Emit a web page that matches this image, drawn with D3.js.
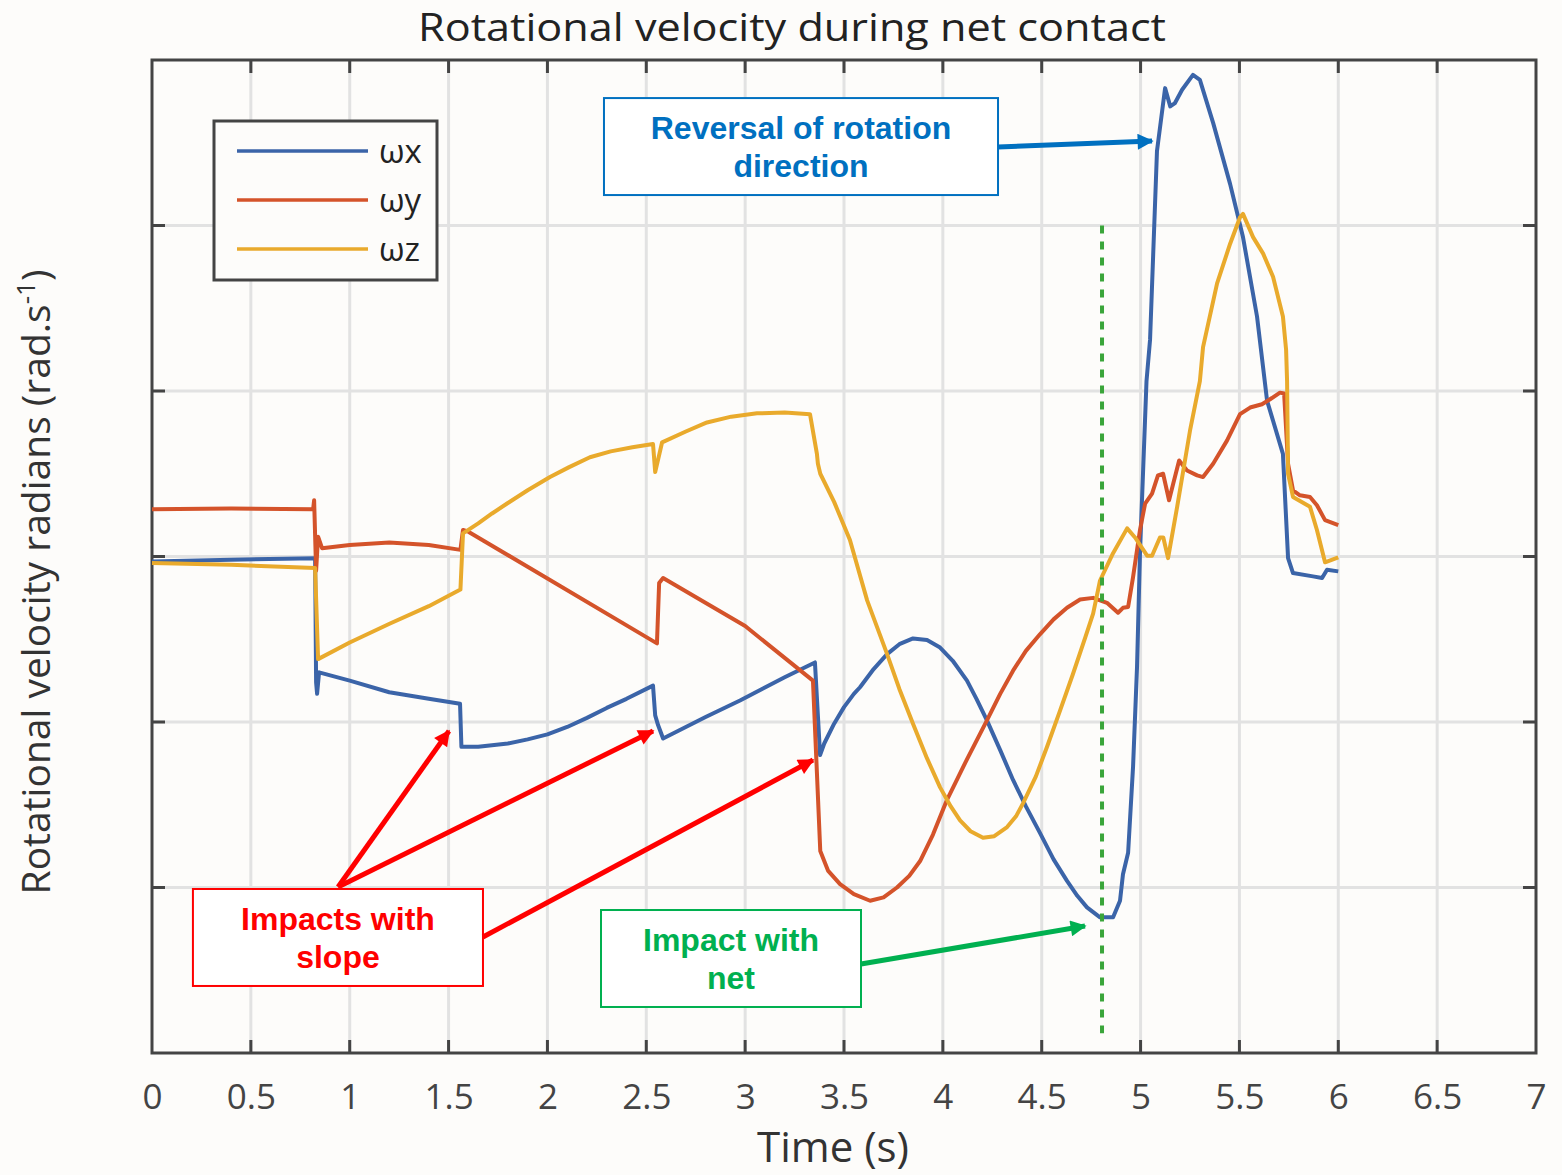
<!DOCTYPE html>
<html lang="en">
<head>
<meta charset="UTF-8">
<title>Rotational velocity during net contact</title>
<script src="https://cdn.jsdelivr.net/npm/d3@7"></script>
<style>
  body { margin: 0; background: #fdfcfa; }
  svg { display: block; }
  .tick text { font-family: "Open Sans", sans-serif; fill: #444; }
  .ann { font-family: "Liberation Sans", Arial, sans-serif; font-weight: bold; }
</style>
</head>
<body>
<svg width="1562" height="1175"></svg>
<script>
// x ticks (s)
const xTicks = [0, 0.5, 1, 1.5, 2, 2.5, 3, 3.5, 4, 4.5, 5, 5.5, 6, 6.5, 7];
const yTicks = [-30, -20, -10, 0, 10, 20, 30];

// series, [time, rad/s]
const omegaX = [
  [0, -0.3], [0.4, -0.2], [0.825, -0.1], [0.83, -7.6], [0.835, -8.3], [0.845, -7.0],
  [1.0, -7.5], [1.2, -8.2], [1.4, -8.6], [1.558, -8.9], [1.565, -11.5], [1.65, -11.5],
  [1.8, -11.3], [1.9, -11.05], [2.0, -10.75], [2.1, -10.3], [2.2, -9.75], [2.3, -9.15],
  [2.4, -8.6], [2.534, -7.8], [2.545, -9.6], [2.56, -10.2], [2.585, -11.0], [2.8, -9.7],
  [2.974, -8.7], [3.2, -7.3], [3.353, -6.4], [3.379, -12.0], [3.4, -11.3], [3.45, -10.1],
  [3.5, -9.1], [3.55, -8.3], [3.581, -7.9], [3.65, -6.8], [3.718, -5.9], [3.78, -5.3],
  [3.849, -4.95], [3.92, -5.05], [3.986, -5.5], [4.05, -6.3], [4.122, -7.5], [4.17, -8.6],
  [4.223, -9.9], [4.29, -11.7], [4.355, -13.5], [4.42, -15.1], [4.491, -16.7], [4.56, -18.3],
  [4.628, -19.6], [4.68, -20.5], [4.729, -21.2], [4.795, -21.8], [4.861, -21.8],
  [4.896, -20.8], [4.911, -19.2], [4.937, -17.9], [4.962, -12.7], [4.982, -6.7],
  [4.997, 0.2], [5.03, 10.6], [5.048, 13.1], [5.083, 24.5], [5.124, 28.3], [5.15, 27.2],
  [5.174, 27.4], [5.21, 28.2], [5.265, 29.1], [5.3, 28.8], [5.367, 26.2], [5.453, 22.5],
  [5.518, 19.3], [5.589, 14.5], [5.64, 9.4], [5.72, 6.2], [5.746, -0.1], [5.771, -1.0],
  [5.872, -1.2], [5.918, -1.3], [5.943, -0.8], [6.0, -0.9]
];
const omegaY = [
  [0, 2.85], [0.4, 2.9], [0.815, 2.85], [0.82, 3.4], [0.83, -0.85], [0.84, 1.2],
  [0.86, 0.5], [1.0, 0.7], [1.2, 0.85], [1.4, 0.7], [1.56, 0.4], [1.573, 1.6],
  [1.6, 1.5], [2.554, -5.25], [2.565, -1.6], [2.585, -1.3], [3.0, -4.2], [3.343, -7.5],
  [3.38, -17.8], [3.42, -19.0], [3.48, -19.8], [3.55, -20.4], [3.632, -20.8], [3.7, -20.6],
  [3.768, -20.0], [3.83, -19.3], [3.885, -18.4], [3.95, -16.8], [4.021, -14.7],
  [4.12, -12.3], [4.223, -9.9], [4.29, -8.3], [4.355, -6.9], [4.42, -5.7], [4.491, -4.7],
  [4.56, -3.8], [4.628, -3.1], [4.694, -2.6], [4.76, -2.5], [4.83, -2.8], [4.886, -3.4],
  [4.911, -3.1], [4.937, -3.05], [4.962, -1.25], [4.997, 1.6], [5.023, 3.2], [5.058, 3.8],
  [5.088, 4.9], [5.114, 5.0], [5.144, 3.4], [5.165, 4.4], [5.195, 5.8], [5.235, 5.2],
  [5.286, 4.9], [5.316, 4.8], [5.367, 5.6], [5.437, 7.0], [5.503, 8.6], [5.554, 9.0],
  [5.614, 9.2], [5.655, 9.5], [5.705, 9.9], [5.726, 9.85], [5.746, 5.6], [5.771, 4.0],
  [5.806, 3.7], [5.857, 3.6], [5.892, 3.1], [5.933, 2.2], [6.0, 1.9]
];
const omegaZ = [
  [0, -0.4], [0.4, -0.5], [0.825, -0.7], [0.84, -6.2], [1.0, -5.2], [1.204, -4.05],
  [1.4, -3.0], [1.56, -2.0], [1.573, 1.4], [1.65, 2.0], [1.72, 2.6], [1.796, 3.2],
  [1.9, 4.0], [2.013, 4.8], [2.11, 5.4], [2.215, 6.0], [2.32, 6.35], [2.43, 6.6],
  [2.534, 6.8], [2.545, 5.1], [2.58, 6.9], [2.7, 7.55], [2.807, 8.1], [2.93, 8.45],
  [3.06, 8.65], [3.2, 8.7], [3.328, 8.6], [3.363, 6.2], [3.368, 5.6], [3.38, 5.0],
  [3.45, 3.3], [3.53, 1.0], [3.617, -2.65], [3.718, -5.9], [3.78, -8.0], [3.849, -10.1],
  [3.92, -12.2], [3.986, -13.95], [4.04, -15.1], [4.087, -15.95], [4.14, -16.6],
  [4.203, -17.0], [4.26, -16.9], [4.325, -16.35], [4.37, -15.7], [4.406, -14.9],
  [4.47, -13.3], [4.527, -11.5], [4.59, -9.4], [4.658, -7.1], [4.72, -4.9], [4.76, -3.45],
  [4.795, -1.45], [4.861, 0.2], [4.932, 1.7], [4.972, 1.15], [5.033, 0.05], [5.058, 0.05],
  [5.098, 1.15], [5.115, 1.15], [5.139, -0.1], [5.185, 3.0], [5.25, 7.6], [5.3, 10.6],
  [5.316, 12.65], [5.387, 16.5], [5.453, 18.9], [5.503, 20.5], [5.518, 20.7], [5.569, 19.3],
  [5.62, 18.3], [5.67, 16.9], [5.72, 14.5], [5.736, 12.5], [5.741, 10.6], [5.746, 5.0],
  [5.771, 3.6], [5.857, 3.0], [5.892, 1.6], [5.933, -0.35], [6.0, -0.05]
];

const series = [
  { name: "\u03c9x", data: omegaX, color: "#3b64a8" },
  { name: "\u03c9y", data: omegaY, color: "#d4532a" },
  { name: "\u03c9z", data: omegaZ, color: "#e9aa2c" }
];

const netTime = 4.805;

const margin = { left: 152, right: 26, top: 60, bottom: 122 };
const width = 1562, height = 1175;

const svg = d3.select("svg");
svg.append("rect").attr("width", width).attr("height", height).attr("fill", "#fdfcfa");

const x = d3.scaleLinear().domain([0, 7]).range([margin.left, width - margin.right]);
const y = d3.scaleLinear().domain([-30, 30]).range([height - margin.bottom, margin.top]);

// grid
const grid = svg.append("g").attr("stroke", "#e2e2e2").attr("stroke-width", 3);
grid.selectAll("line.gx").data(xTicks.slice(1, -1)).enter().append("line")
  .attr("x1", d => x(d)).attr("x2", d => x(d))
  .attr("y1", y(30)).attr("y2", y(-30));
grid.selectAll("line.gy").data(yTicks.slice(1, -1)).enter().append("line")
  .attr("x1", x(0)).attr("x2", x(7))
  .attr("y1", d => y(d)).attr("y2", d => y(d));

// axes with inward ticks, no y labels
const tickLen = 13;
const xAxis = svg.append("g")
  .attr("transform", `translate(0,${y(-30)})`)
  .call(d3.axisBottom(x).tickValues(xTicks).tickSize(0).tickPadding(31).tickFormat(d3.format("")));
xAxis.select(".domain").remove();
xAxis.selectAll("text").attr("font-size", 35);

const frame = svg.append("g").attr("stroke", "#444").attr("stroke-width", 3);
xTicks.slice(1, -1).forEach(t => {
  frame.append("line").attr("x1", x(t)).attr("x2", x(t)).attr("y1", y(-30)).attr("y2", y(-30) - tickLen);
  frame.append("line").attr("x1", x(t)).attr("x2", x(t)).attr("y1", y(30)).attr("y2", y(30) + tickLen);
});
yTicks.slice(1, -1).forEach(v => {
  frame.append("line").attr("x1", x(0)).attr("x2", x(0) + tickLen).attr("y1", y(v)).attr("y2", y(v));
  frame.append("line").attr("x1", x(7)).attr("x2", x(7) - tickLen).attr("y1", y(v)).attr("y2", y(v));
});
frame.append("rect")
  .attr("x", x(0)).attr("y", y(30))
  .attr("width", x(7) - x(0)).attr("height", y(-30) - y(30))
  .attr("fill", "none");

// lines
const line = d3.line().x(d => x(d[0])).y(d => y(d[1]));
svg.append("g").selectAll("path").data(series).enter().append("path")
  .attr("d", d => line(d.data))
  .attr("fill", "none")
  .attr("stroke", d => d.color)
  .attr("stroke-width", 4)
  .attr("stroke-linejoin", "round");

// net impact marker
svg.append("line")
  .attr("x1", x(netTime)).attr("x2", x(netTime))
  .attr("y1", y(20)).attr("y2", y(-28.8))
  .attr("stroke", "#3aa53a").attr("stroke-width", 4)
  .attr("stroke-dasharray", "8,8");

// titles
svg.append("text")
  .attr("x", 792).attr("y", 41)
  .attr("text-anchor", "middle")
  .attr("font-family", "Open Sans, sans-serif").attr("font-size", 38).attr("fill", "#222")
  .attr("textLength", 748).attr("lengthAdjust", "spacingAndGlyphs")
  .text("Rotational velocity during net contact");

svg.append("text")
  .attr("x", 833).attr("y", 1162)
  .attr("text-anchor", "middle")
  .attr("font-family", "Open Sans, sans-serif").attr("font-size", 42).attr("fill", "#333")
  .text("Time (s)");

const yl = svg.append("text")
  .attr("transform", `translate(50,582) rotate(-90)`)
  .attr("text-anchor", "middle")
  .attr("font-family", "Open Sans, sans-serif").attr("font-size", 39).attr("fill", "#333");
yl.append("tspan").text("Rotational velocity radians (rad.s");
yl.append("tspan").attr("dy", -15).attr("font-size", 26).text("-1");
yl.append("tspan").attr("dy", 15).text(")");

// legend
const lg = svg.append("g").attr("transform", `translate(${x(0) + 62},${y(30) + 61})`);
lg.append("rect").attr("width", 223).attr("height", 159)
  .attr("fill", "#fdfcfa").attr("stroke", "#444").attr("stroke-width", 3);
series.forEach((s, i) => {
  const gy = 30 + i * 49;
  lg.append("line").attr("x1", 23).attr("x2", 154).attr("y1", gy).attr("y2", gy)
    .attr("stroke", s.color).attr("stroke-width", 3.5);
  lg.append("text").attr("x", 165).attr("y", gy + 12)
    .attr("font-family", "Open Sans, sans-serif").attr("font-size", 33).attr("fill", "#222")
    .text(s.name);
});

// annotations (positions in data units)
const boxes = [
  { t0: 2.286, t1: 4.279, v0: 27.7, v1: 21.84, color: "#0070c0", lines: ["Reversal of rotation", "direction"] },
  { t0: 0.207, t1: 1.674, v0: -20.09, v1: -25.95, color: "#ff0000", lines: ["Impacts with", "slope"] },
  { t0: 2.271, t1: 3.586, v0: -21.36, v1: -27.22, color: "#00b050", lines: ["Impact with", "net"] }
];
const arrows = [
  { from: [0.941, -19.97], to: [1.502, -10.54], color: "#ff0000", w: 5 },
  { from: [0.941, -19.97], to: [2.534, -10.54], color: "#ff0000", w: 5 },
  { from: [1.674, -22.99], to: [3.343, -12.3], color: "#ff0000", w: 5 },
  { from: [4.279, 24.75], to: [5.058, 25.1], color: "#0070c0", w: 5 },
  { from: [3.586, -24.62], to: [4.719, -22.33], color: "#00b050", w: 5 }
];

const colors = ["#ff0000", "#0070c0", "#00b050"];
const defs = svg.append("defs");
colors.forEach((c, i) => {
  defs.append("marker")
    .attr("id", "ah" + i)
    .attr("viewBox", "0 0 10 10").attr("refX", 9).attr("refY", 5)
    .attr("markerWidth", 22).attr("markerHeight", 16)
    .attr("markerUnits", "userSpaceOnUse")
    .attr("orient", "auto")
    .append("path").attr("d", "M0,0 L10,5 L0,10 z").attr("fill", c);
});

const ann = svg.append("g");
boxes.forEach(b => {
  ann.append("rect")
    .attr("x", x(b.t0)).attr("y", y(b.v0))
    .attr("width", x(b.t1) - x(b.t0)).attr("height", y(b.v1) - y(b.v0))
    .attr("fill", "#fff").attr("stroke", b.color).attr("stroke-width", 2);
  const cx = (x(b.t0) + x(b.t1)) / 2;
  const top = y(b.v0);
  b.lines.forEach((l, i) => {
    ann.append("text").attr("class", "ann")
      .attr("x", cx).attr("y", top + 41 + i * 38)
      .attr("text-anchor", "middle").attr("font-size", 32)
      .attr("fill", b.color).text(l);
  });
});
arrows.forEach(a => {
  ann.append("line")
    .attr("x1", x(a.from[0])).attr("y1", y(a.from[1]))
    .attr("x2", x(a.to[0])).attr("y2", y(a.to[1]))
    .attr("stroke", a.color).attr("stroke-width", a.w)
    .attr("marker-end", `url(#ah${colors.indexOf(a.color)})`);
});
</script>
</body>
</html>
